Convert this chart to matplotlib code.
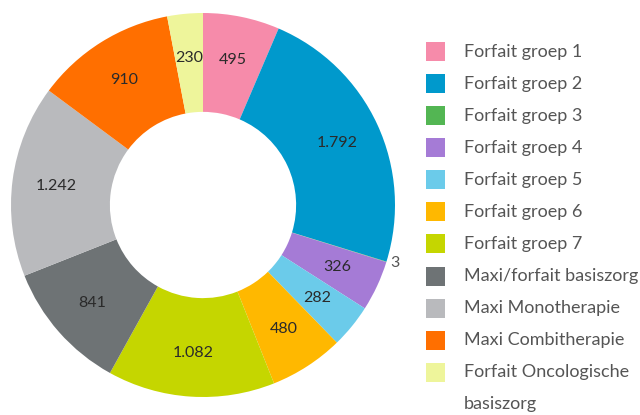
import numpy as np
import matplotlib.pyplot as plt
from matplotlib.patches import Rectangle

# Data
labels = ["Forfait groep 1", "Forfait groep 2", "Forfait groep 3", "Forfait groep 4",
          "Forfait groep 5", "Forfait groep 6", "Forfait groep 7",
          "Maxi/forfait basiszorg", "Maxi Monotherapie", "Maxi Combitherapie",
          "Forfait Oncologische\nbasiszorg"]
values = [495, 1792, 3, 326, 282, 480, 1082, 841, 1242, 910, 230]
colors = ["#F68BAA", "#0099CC", "#53B653", "#A57BD6", "#6BCBEA", "#FFB800",
          "#C5D600", "#6E7375", "#B9BABD", "#FF6F00", "#EEF59B"]

plt.rcParams['font.family'] = ['Lato', 'DejaVu Sans']

fig = plt.figure(figsize=(6.4, 4.15), dpi=100)

# pie axes: centre (203, 205) px from top, radius 192 px
W, H = 640, 415
cx, cy, R = 203, H - 205, 192
ax = fig.add_axes([(cx - R) / W, (cy - R) / H, 2 * R / W, 2 * R / H])

wedges, _ = ax.pie(values, colors=colors, startangle=90, counterclock=False,
                   radius=1.0, wedgeprops=dict(width=0.515, linewidth=0))
ax.set_xlim(-1, 1)
ax.set_ylim(-1, 1)
ax.set_aspect('equal')
ax.axis('off')

def fmt(v):
    return f"{v:,}".replace(",", ".")

total = sum(values)
for w, v in zip(wedges, values):
    ang = np.deg2rad((w.theta1 + w.theta2) / 2)
    if v / total < 0.01:
        r = 1.02
        ax.text(r * np.cos(ang), r * np.sin(ang), fmt(v), ha='left', va='center',
                fontsize=11.5, color='#555555')
    else:
        r = 0.77
        ax.text(r * np.cos(ang), r * np.sin(ang), fmt(v), ha='center', va='center',
                fontsize=11.5, color='#2a2a2a')

# legend drawn by hand
y0 = H - 52
step = 32
sq = 19
for i, (lab, col) in enumerate(zip(labels, colors)):
    yc = y0 - i * step
    fig.patches.append(Rectangle((426 / W, (yc - sq / 2) / H), sq / W, sq / H,
                                 facecolor=col, edgecolor='none',
                                 transform=fig.transFigure, figure=fig))
    for j, line in enumerate(lab.split("\n")):
        fig.text(464 / W, (yc - j * step) / H, line, ha='left', va='center',
                 fontsize=13, color='#555555')

fig.savefig("out.png", dpi=100)
